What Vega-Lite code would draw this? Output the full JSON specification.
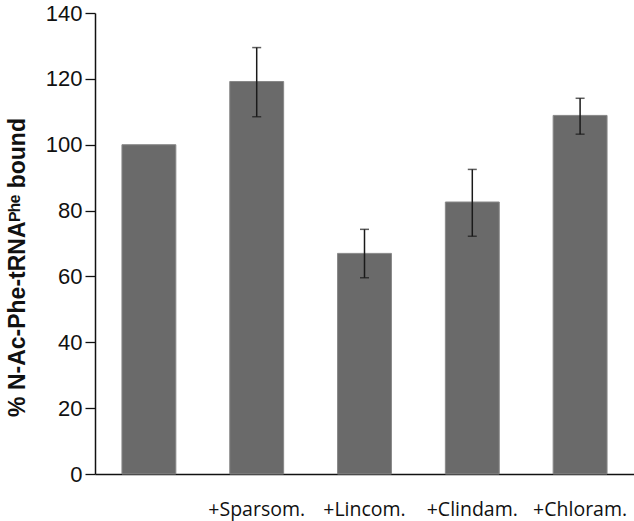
{
  "$schema": "https://vega.github.io/schema/vega-lite/v6.json",
  "width": 539,
  "height": 461,
  "autosize": {"type": "none"},
  "padding": {"left": 95, "top": 13, "right": 0, "bottom": 47},
  "background": "white",
  "data": {
    "values": [
      {"cond": "Control", "value": 100, "lo": null, "hi": null},
      {"cond": "+Sparsom.", "value": 119.2, "lo": 108.5, "hi": 129.5},
      {"cond": "+Lincom.", "value": 67.0, "lo": 59.6, "hi": 74.3},
      {"cond": "+Clindam.", "value": 82.6, "lo": 72.2, "hi": 92.5},
      {"cond": "+Chloram.", "value": 108.9, "lo": 103.2, "hi": 114.1}
    ]
  },
  "encoding": {
    "x": {
      "field": "cond",
      "type": "nominal",
      "sort": null,
      "scale": {"paddingInner": 0.5, "paddingOuter": 0.25},
      "axis": {
        "title": null,
        "labelAngle": 0,
        "labelExpr": "datum.value == 'Control' ? '' : datum.value",
        "ticks": false,
        "labelPadding": 26,
        "labelFont": "Open Sans",
        "labelFontSize": 19.5,
        "labelColor": "#111",
        "labelOverlap": false,
        "labelBound": false,
        "domainColor": "#111",
        "domainWidth": 1.5
      }
    }
  },
  "layer": [
    {
      "mark": {"type": "bar", "color": "#6a6a6a", "stroke": "#888888", "strokeWidth": 1},
      "encoding": {
        "y": {
          "field": "value",
          "type": "quantitative",
          "scale": {"domain": [0, 140], "nice": false},
          "axis": {
            "values": [0, 20, 40, 60, 80, 100, 120, 140],
            "grid": false,
            "tickSize": 10,
            "tickColor": "#111",
            "tickWidth": 1.3,
            "domainColor": "#111",
            "domainWidth": 1.5,
            "labelFont": "Liberation Sans",
            "labelFontSize": 22,
            "labelColor": "#111",
            "labelPadding": 3,
            "title": "% N-Ac-Phe-tRNAᴾʰᵉ bound",
            "titleFont": "Liberation Sans",
            "titleFontWeight": "bold",
            "titleFontSize": 23,
            "titleColor": "#111",
            "titlePadding": 16,
            "titleY": 254
          }
        }
      }
    },
    {
      "mark": {"type": "rule", "color": "#1a1a1a", "strokeWidth": 1.5},
      "encoding": {
        "y": {"field": "lo", "type": "quantitative"},
        "y2": {"field": "hi"}
      }
    },
    {
      "mark": {"type": "tick", "color": "#1a1a1a", "thickness": 1.5, "size": 9},
      "encoding": {
        "y": {"field": "lo", "type": "quantitative"}
      }
    },
    {
      "mark": {"type": "tick", "color": "#1a1a1a", "thickness": 1.5, "size": 9},
      "encoding": {
        "y": {"field": "hi", "type": "quantitative"}
      }
    }
  ],
  "config": {"view": {"stroke": null}}
}
